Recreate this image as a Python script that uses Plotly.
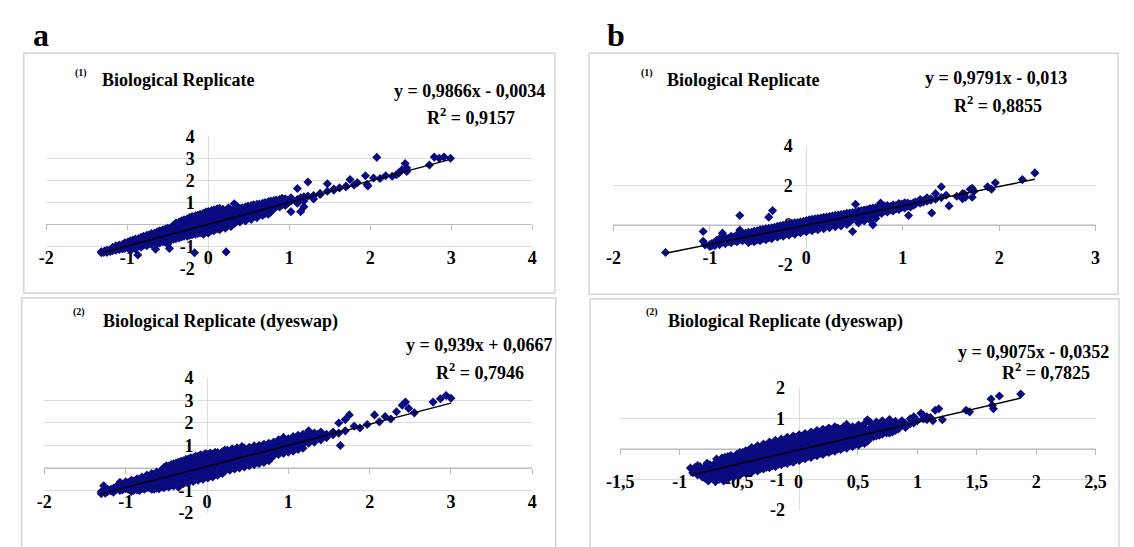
import plotly.graph_objects as go

W, H = 1134, 547

a1_points = [
    (-1.32, [-1.30, -1.25]), (-1.29, [-1.28]), (-1.25, [-1.18, -1.28]),
    (-1.18, [-1.05, -1.20, -1.12]), (-1.10, [-1.02, -1.15, -0.95]),
    (-1.03, [-0.98, -1.10, -0.85]), (-0.96, [-0.88, -1.05, -0.75, -1.20]),
    (-0.90, [-0.80, -0.98, -0.68, -1.12]), (-0.87, [-1.40]),
    (-0.83, [-0.72, -0.90, -0.60, -1.05]), (-0.76, [-0.65, -0.85, -0.50, -0.98]),
    (-0.70, [-0.58, -0.78, -0.42, -0.92]), (-0.65, [-1.14]),
    (-0.63, [-0.50, -0.70, -0.35, -0.88]), (-0.56, [-0.42, -0.65, -0.25, -0.80]),
    (-0.50, [-0.35, -0.58, -0.18, -0.75, -0.90]), (-0.48, [-1.10]),
    (-0.43, [-0.30, -0.50, -0.10, -0.68, -0.05]),
    (-0.36, [-0.22, -0.42, -0.02, -0.62, 0.10]),
    (-0.30, [-0.15, -0.35, 0.05, -0.55, 0.20]),
    (-0.23, [-0.08, -0.30, 0.12, -0.50, 0.30]),
    (-0.17, [-1.30]),
    (-0.16, [0.00, -0.22, 0.20, -0.45, 0.38]),
    (-0.10, [0.05, -0.15, 0.28, -0.40, 0.45]),
    (-0.03, [0.12, -0.10, 0.35, -0.35, 0.55]),
    (0.04, [0.18, -0.02, 0.40, -0.28, 0.62]),
    (0.11, [0.25, 0.05, 0.48, -0.20, 0.70]),
    (0.18, [0.30, 0.10, 0.52, -0.12, 0.68]),
    (0.22, [-1.26]),
    (0.25, [0.38, 0.18, 0.60, -0.05, 0.75]),
    (0.32, [0.45, 0.22, 0.65, 0.02, 0.93]),
    (0.39, [0.50, 0.30, 0.72, 0.10]), (0.46, [0.58, 0.36, 0.78, 0.15]),
    (0.53, [0.62, 0.42, 0.85, 0.22]), (0.60, [0.70, 0.50, 0.90, 0.30]),
    (0.67, [0.78, 0.55, 0.95, 0.40]), (0.74, [0.82, 0.62, 1.02, 0.45]),
    (0.81, [0.90, 0.70, 1.08]), (0.88, [0.95, 0.78, 1.12]),
    (0.95, [1.02, 0.85, 1.15]), (1.02, [1.05, 0.57, 1.20]),
    (1.10, [1.12, 1.62, 0.95]), (1.14, [0.57, 1.20]), (1.18, [0.79, 1.25, 1.05]),
    (1.23, [1.92, 1.28]), (1.30, [1.30, 1.15]), (1.38, [1.40, 1.35]),
    (1.47, [1.84, 1.50]), (1.55, [1.55, 1.60]), (1.62, [1.65]),
    (1.70, [1.72, 1.70]), (1.75, [2.03]), (1.80, [1.78]), (1.84, [1.89]),
    (1.94, [2.20]), (1.96, [1.81]), (1.97, [1.74]), (2.04, [2.10]),
    (2.08, [3.04]), (2.12, [2.08]), (2.19, [2.20]), (2.27, [2.18]),
    (2.32, [2.25]), (2.35, [2.32]), (2.39, [2.47]), (2.43, [2.76]),
    (2.45, [2.55, 2.40]), (2.73, [2.69]), (2.79, [3.05]), (2.85, [3.00]),
    (2.91, [3.05]), (2.99, [3.00]),
    (-1.28, [-1.22]), (-1.21, [-1.15, -1.24]), (-1.14, [-1.08, -0.98, -1.18]),
    (-1.06, [-0.92, -1.05, -1.12]), (-0.99, [-0.90, -0.80, -1.02]),
    (-0.93, [-0.72, -0.85, -0.95, -1.08]), (-0.86, [-0.65, -0.76, -0.92, -1.00]),
    (-0.80, [-0.55, -0.68, -0.82, -0.96]), (-0.73, [-0.48, -0.62, -0.74, -0.88]),
    (-0.66, [-0.40, -0.55, -0.66, -0.80]),
    (-0.60, [-0.30, -0.45, -0.58, -0.72, -0.85]),
    (-0.53, [-0.22, -0.40, -0.50, -0.65, -0.82]),
    (-0.46, [-0.15, -0.25, -0.42, -0.58, -0.72]),
    (-0.40, [-0.05, -0.18, -0.35, -0.50, -0.66, 0.05]),
    (-0.33, [0.00, -0.10, -0.28, -0.45, -0.58, 0.15]),
    (-0.26, [0.08, -0.05, -0.20, -0.40, -0.55, 0.25]),
    (-0.20, [0.15, 0.02, -0.12, -0.35, -0.48, 0.35]),
    (-0.13, [0.22, 0.10, -0.05, -0.30, -0.42, 0.40]),
    (-0.06, [0.30, 0.15, 0.00, -0.25, -0.45, 0.50]),
    (0.00, [0.38, 0.22, 0.05, -0.18, -0.40, 0.58]),
    (0.07, [0.45, 0.28, 0.10, -0.12, -0.30, 0.65]),
    (0.14, [0.52, 0.35, 0.15, -0.05, -0.25, 0.72]),
    (0.21, [0.55, 0.40, 0.22, 0.02, -0.18]),
    (0.28, [0.62, 0.45, 0.28, 0.08, -0.10]),
    (0.35, [0.70, 0.52, 0.35, 0.12, 0.82]),
    (0.42, [0.75, 0.60, 0.40, 0.20]), (0.49, [0.82, 0.65, 0.45, 0.28]),
    (0.56, [0.88, 0.72, 0.52, 0.35]), (0.63, [0.92, 0.78, 0.60, 0.42]),
    (0.70, [0.98, 0.85, 0.65, 0.48]), (0.77, [1.05, 0.92, 0.72, 0.55]),
    (0.84, [1.10, 0.98, 0.80]), (0.91, [1.08, 0.88, 1.18]), (0.98, [0.95, 1.10]),
]

a2_points = [
    (-1.30, [-1.06, -1.15]), (-1.27, [-0.79]), (-1.22, [-1.05, -0.95]),
    (-1.15, [-0.90, -1.08]), (-1.07, [-0.64, -0.85, -1.00]),
    (-1.00, [-0.78, -0.92, -0.62]), (-0.93, [-0.70, -0.88, -0.55, -1.05]),
    (-0.86, [-0.65, -0.82, -0.48, -0.98]), (-0.83, [-1.00]),
    (-0.80, [-0.58, -0.75, -0.40, -0.92]), (-0.74, [-0.52, -0.70, -0.32, -0.88]),
    (-0.68, [-0.45, -0.62, -0.25, -0.82, -0.95]),
    (-0.62, [-0.38, -0.55, -0.18, -0.75, -0.90]),
    (-0.56, [-0.32, -0.50, -0.10, -0.68, -0.85]),
    (-0.50, [-0.25, -0.42, -0.05, -0.62, -0.80, 0.10]),
    (-0.44, [-0.18, -0.38, 0.02, -0.58, -0.75, 0.15]),
    (-0.38, [-0.12, -0.32, 0.10, -0.52, -0.70, 0.22]),
    (-0.35, [-0.86]),
    (-0.32, [-0.05, -0.25, 0.15, -0.45, -0.65, 0.30]),
    (-0.26, [0.02, -0.18, 0.22, -0.40, -0.60, 0.38]),
    (-0.20, [0.08, -0.12, 0.28, -0.35, -0.55, 0.45]),
    (-0.14, [0.12, -0.05, 0.35, -0.28, -0.50, 0.52]),
    (-0.08, [0.18, 0.00, 0.40, -0.22, -0.45, 0.58]),
    (-0.02, [0.25, 0.05, 0.45, -0.15, -0.40, 0.64]),
    (0.04, [0.30, 0.10, 0.52, -0.10, -0.35, 0.66]),
    (0.10, [0.35, 0.15, 0.58, -0.05, -0.28, 0.70]),
    (0.16, [0.40, 0.20, 0.62, 0.00, -0.22]),
    (0.22, [0.45, 0.25, 0.68, 0.05, -0.15, 0.80]),
    (0.28, [0.50, 0.30, 0.72, 0.10, -0.10]),
    (0.34, [0.55, 0.35, 0.78, 0.15, -0.05]),
    (0.40, [0.60, 0.40, 0.82, 0.20, 0.00]),
    (0.46, [0.65, 0.45, 0.88, 0.25, 0.05]),
    (0.52, [0.70, 0.50, 0.92, 0.30, 0.10]),
    (0.58, [0.75, 0.55, 0.98, 0.35, 0.15]),
    (0.64, [0.80, 0.60, 1.00, 0.40, 0.20]),
    (0.70, [0.85, 0.65, 1.05, 0.45, 0.25]),
    (0.76, [0.90, 0.70, 1.10, 0.50, 0.32]),
    (0.82, [0.95, 0.75, 1.15, 0.55]), (0.88, [1.00, 0.80, 1.25, 0.60]),
    (0.94, [1.05, 0.85, 1.36, 0.65]), (1.00, [1.10, 0.90, 1.30, 0.70]),
    (1.06, [1.15, 0.95, 1.40, 0.75]), (1.12, [1.20, 1.00, 1.45, 0.82]),
    (1.18, [1.25, 1.05, 1.50, 0.88]), (1.25, [1.30, 1.65, 1.10]),
    (1.32, [1.35, 1.55, 1.15]), (1.40, [1.40, 1.60, 1.25]),
    (1.47, [1.50, 1.35]), (1.55, [1.48, 1.60]), (1.62, [2.00, 1.55]),
    (1.64, [1.00]), (1.70, [1.65, 2.15]), (1.75, [2.36]), (1.81, [1.86]),
    (1.88, [1.78]), (1.97, [1.93]), (2.06, [2.36]), (2.12, [2.05]),
    (2.19, [2.29]), (2.26, [2.18]), (2.33, [2.50]), (2.40, [2.79]),
    (2.44, [2.93]), (2.48, [2.65]), (2.55, [2.45]), (2.78, [2.93]),
    (2.87, [3.08]), (2.94, [3.22]), (3.00, [3.10]),
    (-1.25, [-1.12, -0.98]), (-1.18, [-0.95, -1.02]), (-1.11, [-0.80, -0.95]),
    (-1.04, [-0.72, -0.88, -0.98]), (-0.97, [-0.65, -0.82, -0.95]),
    (-0.90, [-0.58, -0.75, -0.92, -1.00]), (-0.83, [-0.50, -0.68, -0.85]),
    (-0.77, [-0.45, -0.62, -0.78, -0.95]), (-0.71, [-0.38, -0.55, -0.72, -0.88]),
    (-0.65, [-0.30, -0.48, -0.65, -0.82, -0.95]),
    (-0.59, [-0.25, -0.42, -0.60, -0.78, -0.92]),
    (-0.53, [-0.18, -0.35, -0.55, -0.72, -0.88, 0.02]),
    (-0.47, [-0.10, -0.30, -0.48, -0.66, -0.85, 0.08]),
    (-0.41, [-0.02, -0.22, -0.42, -0.62, -0.80, 0.18]),
    (-0.35, [0.05, -0.15, -0.35, -0.55, -0.75, 0.25]),
    (-0.29, [0.12, -0.08, -0.30, -0.50, -0.70, 0.32]),
    (-0.23, [0.18, -0.02, -0.25, -0.45, -0.65, 0.40]),
    (-0.17, [0.25, 0.05, -0.18, -0.40, -0.60, 0.45]),
    (-0.11, [0.30, 0.10, -0.12, -0.35, -0.55, 0.52]),
    (-0.05, [0.35, 0.15, -0.05, -0.28, -0.50, 0.55]),
    (0.01, [0.40, 0.20, 0.00, -0.22, -0.45, 0.60]),
    (0.07, [0.45, 0.25, 0.05, -0.18, -0.40, 0.62]),
    (0.13, [0.50, 0.30, 0.10, -0.12, -0.32, 0.68]),
    (0.19, [0.55, 0.35, 0.15, -0.08, -0.25, 0.72]),
    (0.25, [0.60, 0.40, 0.20, -0.02, 0.78]),
    (0.31, [0.65, 0.45, 0.25, 0.05, 0.85]),
    (0.37, [0.70, 0.50, 0.30, 0.10, 0.90]),
    (0.43, [0.75, 0.55, 0.35, 0.12, 0.95]),
    (0.49, [0.80, 0.60, 0.40, 0.18]), (0.55, [0.85, 0.65, 0.45, 0.22]),
    (0.61, [0.90, 0.70, 0.50, 0.28]), (0.67, [0.95, 0.75, 0.55, 0.35]),
    (0.73, [1.00, 0.80, 0.60, 0.40]), (0.79, [1.05, 0.85, 0.65, 0.45]),
    (0.85, [1.10, 0.90, 0.70]), (0.91, [1.15, 0.95, 0.75]),
    (0.97, [1.20, 1.00, 0.80]), (1.03, [1.25, 1.05, 0.85]),
    (1.09, [1.30, 1.10, 0.92]), (1.15, [1.35, 1.15]), (1.21, [1.40, 1.20]),
    (1.28, [1.45, 1.25]), (1.36, [1.50, 1.30]), (1.44, [1.42]),
]

b1_points = [
    (-1.46, [-1.40]), (-1.07, [-0.34, -0.83]), (-1.00, [-1.00, -1.10]),
    (-0.95, [-0.88, -1.05]), (-0.90, [-0.85, -1.00, -0.70]), (-0.87, [-0.42]),
    (-0.84, [-0.80, -0.95, -0.65]), (-0.78, [-0.72, -0.90, -0.58]),
    (-0.72, [-0.68, -0.85, -0.50]), (-0.69, [-0.26, 0.47]),
    (-0.66, [-0.62, -0.80, -0.45]), (-0.60, [-0.55, -0.75, -0.38, -0.90]),
    (-0.54, [-0.50, -0.70, -0.32, -0.85]), (-0.48, [-0.45, -0.65, -0.25, -0.80]),
    (-0.42, [-0.40, -0.58, -0.20, -0.75]), (-0.39, [0.39]),
    (-0.36, [-0.52, -0.15, -0.70, -0.35]), (-0.35, [0.72]),
    (-0.30, [-0.28, -0.48, -0.08, -0.62]), (-0.24, [-0.22, -0.42, -0.02, -0.58]),
    (-0.18, [-0.15, -0.35, 0.05, -0.52]), (-0.12, [-0.10, -0.30, 0.10, -0.48]),
    (-0.06, [-0.05, -0.22, 0.15, -0.40]), (0.00, [0.02, -0.18, 0.22, -0.35]),
    (0.06, [0.08, -0.12, 0.28, -0.30]), (0.12, [0.12, -0.05, 0.32, -0.25]),
    (0.18, [0.18, 0.00, 0.38, -0.20]), (0.24, [0.22, 0.05, 0.42, -0.15]),
    (0.30, [0.28, 0.10, 0.48, -0.10]), (0.36, [0.35, 0.15, 0.52, -0.05]),
    (0.42, [0.40, 0.22, 0.58, 0.02]), (0.48, [0.45, 0.28, 0.62, -0.34]),
    (0.51, [1.04]), (0.54, [0.52, 0.32, 0.70, 0.10]),
    (0.60, [0.58, 0.38, 0.75, 0.20]), (0.66, [0.65, 0.45, 0.82, 0.25]),
    (0.69, [0.00]), (0.72, [0.70, 0.52, 0.88, 0.32]), (0.77, [1.10]),
    (0.78, [0.75, 0.58, 0.92]), (0.84, [0.82, 0.65, 0.98]),
    (0.90, [0.88, 0.70, 1.02]), (0.96, [0.95, 0.78, 1.08]),
    (1.02, [1.00, 0.85, 1.12]), (1.06, [0.47]), (1.08, [1.05, 0.90]),
    (1.13, [1.04, 1.15]), (1.18, [1.28, 1.10]), (1.25, [1.37, 1.20]),
    (1.30, [0.60]), (1.34, [1.58, 1.30]), (1.40, [1.93, 1.38]),
    (1.45, [1.50]), (1.48, [0.96]), (1.56, [1.45]), (1.62, [1.32, 1.58]),
    (1.64, [1.56]), (1.65, [1.40]), (1.70, [1.80]), (1.72, [1.40, 1.85]),
    (1.74, [1.70]), (1.88, [1.93]), (1.92, [1.80]), (1.96, [2.13]),
    (2.24, [2.29]), (2.37, [2.63]),
    (-1.05, [-1.02]), (-0.98, [-0.95, -1.05]), (-0.93, [-0.92, -0.78]),
    (-0.87, [-0.88, -0.72]), (-0.81, [-0.85, -0.68, -0.75]),
    (-0.75, [-0.80, -0.62, -0.70]), (-0.69, [-0.75, -0.58, -0.65, -0.48]),
    (-0.63, [-0.70, -0.50, -0.60, -0.42]),
    (-0.57, [-0.65, -0.45, -0.55, -0.38, -0.80]),
    (-0.51, [-0.60, -0.40, -0.52, -0.30, -0.75]),
    (-0.45, [-0.55, -0.35, -0.45, -0.22, -0.70]),
    (-0.39, [-0.50, -0.30, -0.40, -0.18, -0.65]),
    (-0.33, [-0.42, -0.22, -0.35, -0.12]),
    (-0.27, [-0.38, -0.15, -0.30, -0.05, -0.52]),
    (-0.21, [-0.30, -0.10, -0.22, 0.02, -0.45]),
    (-0.15, [-0.25, -0.05, -0.18, 0.08, -0.40]),
    (-0.09, [-0.18, 0.02, -0.12, 0.12, -0.35]),
    (-0.03, [-0.12, 0.08, -0.05, 0.18, -0.28]),
    (0.03, [-0.08, 0.12, 0.00, 0.25, -0.22]),
    (0.09, [-0.02, 0.18, 0.05, 0.30, -0.18]),
    (0.15, [0.05, 0.22, 0.12, 0.35, -0.12]),
    (0.21, [0.10, 0.28, 0.18, 0.40, -0.05]),
    (0.27, [0.15, 0.35, 0.22, 0.45]), (0.33, [0.22, 0.40, 0.28, 0.50, 0.05]),
    (0.39, [0.28, 0.45, 0.35, 0.55]), (0.45, [0.32, 0.52, 0.40, 0.60, 0.15]),
    (0.51, [0.40, 0.58, 0.45, 0.65]), (0.57, [0.45, 0.62, 0.52, 0.72, 0.28]),
    (0.63, [0.50, 0.70, 0.58, 0.78]), (0.69, [0.58, 0.75, 0.65, 0.85]),
    (0.75, [0.62, 0.80, 0.70, 0.90]), (0.81, [0.70, 0.85, 0.78, 0.95]),
    (0.87, [0.75, 0.92, 0.82]), (0.93, [0.82, 0.98, 0.88]),
    (0.99, [0.88, 1.05, 0.95]), (1.05, [0.95, 1.10]), (1.11, [1.00, 1.12]),
    (1.21, [1.15, 1.22]), (1.29, [1.25, 1.32]),
]

b2_points = [
    (-0.91, [-0.63]), (-0.87, [-0.73, -0.60]), (-0.83, [-0.58, -0.80]),
    (-0.81, [-0.92, -0.70]), (-0.77, [-0.47, -0.65, -0.85]), (-0.76, [-1.05]),
    (-0.72, [-0.55, -0.72, -0.90]), (-0.70, [-1.07]), (-0.69, [-0.33]),
    (-0.67, [-0.50, -0.68, -0.85, -1.00]), (-0.63, [-1.05]),
    (-0.62, [-0.42, -0.60, -0.78, -0.95, -0.28]),
    (-0.57, [-0.38, -0.55, -0.72, -0.88, -0.22]),
    (-0.52, [-0.32, -0.50, -0.68, -0.83, -0.18]),
    (-0.47, [-0.28, -0.45, -0.62, -0.78, -0.12]),
    (-0.42, [-0.22, -0.40, -0.58, -0.72, -0.05]),
    (-0.37, [-0.18, -0.35, -0.52, -0.68, 0.00]),
    (-0.32, [-0.12, -0.30, -0.48, -0.65, 0.05]),
    (-0.27, [-0.08, -0.25, -0.42, -0.60, 0.12]),
    (-0.22, [-0.02, -0.20, -0.38, -0.55, 0.18]),
    (-0.17, [0.02, -0.15, -0.32, -0.50, 0.22]),
    (-0.12, [0.08, -0.10, -0.28, -0.45, 0.28]),
    (-0.07, [0.12, -0.05, -0.22, -0.40, 0.32]),
    (-0.02, [0.18, 0.00, -0.18, -0.35, 0.38]),
    (0.03, [0.22, 0.05, -0.12, -0.30, 0.42]),
    (0.08, [0.28, 0.10, -0.08, -0.25, 0.45]),
    (0.13, [0.32, 0.15, -0.02, -0.20, 0.50]),
    (0.18, [0.38, 0.20, 0.02, -0.15, 0.55]),
    (0.23, [0.42, 0.25, 0.08, -0.10, 0.60]),
    (0.28, [0.48, 0.30, 0.12, -0.05, 0.62]),
    (0.33, [0.52, 0.35, 0.18, 0.00, 0.68]),
    (0.38, [0.58, 0.40, 0.22, 0.05, 0.72]),
    (0.43, [0.62, 0.45, 0.28, 0.10]), (0.48, [0.66, 0.50, 0.32, 0.15]),
    (0.50, [0.74]), (0.53, [0.70, 0.52, 0.35, 0.20]),
    (0.58, [0.95, 0.60, 0.42, 0.25]), (0.63, [0.72, 0.55, 0.40]),
    (0.68, [0.78, 0.62, 0.45]), (0.74, [0.84, 0.68, 0.52]),
    (0.79, [0.70, 0.55]), (0.84, [0.80, 0.65]), (0.86, [0.84]),
    (0.90, [0.82, 0.70]), (0.97, [1.05, 0.85]), (1.00, [0.92]),
    (1.03, [1.16]), (1.08, [1.05, 0.95]), (1.13, [0.92]), (1.15, [1.26]),
    (1.18, [1.31]), (1.21, [0.95]), (1.41, [1.26]), (1.44, [1.21]),
    (1.62, [1.63]), (1.63, [1.42]), (1.64, [1.31]), (1.69, [1.73]),
    (1.87, [1.79]),
    (-0.89, [-0.68, -0.78]), (-0.85, [-0.66, -0.85, -0.55]),
    (-0.79, [-0.60, -0.78, -0.95]), (-0.745, [-0.52, -0.68, -0.82, -0.98]),
    (-0.695, [-0.45, -0.62, -0.78, -0.93]),
    (-0.645, [-0.40, -0.56, -0.72, -0.90, -0.30]),
    (-0.595, [-0.35, -0.50, -0.66, -0.82, -0.98, -0.25]),
    (-0.545, [-0.28, -0.44, -0.60, -0.76, -0.92]),
    (-0.495, [-0.24, -0.40, -0.56, -0.70, -0.86, -0.12]),
    (-0.445, [-0.18, -0.34, -0.50, -0.66, -0.80, -0.06]),
    (-0.395, [-0.12, -0.28, -0.44, -0.60, -0.76, 0.04]),
    (-0.345, [-0.08, -0.24, -0.40, -0.56, -0.72, 0.10]),
    (-0.295, [-0.02, -0.18, -0.34, -0.50, -0.66, 0.16]),
    (-0.245, [0.04, -0.12, -0.28, -0.46, -0.62, 0.22]),
    (-0.195, [0.08, -0.08, -0.24, -0.42, -0.58, 0.28]),
    (-0.145, [0.14, -0.02, -0.18, -0.36, -0.52, 0.32]),
    (-0.095, [0.18, 0.02, -0.14, -0.30, -0.48, 0.38]),
    (-0.045, [0.24, 0.08, -0.08, -0.26, -0.44, 0.42]),
    (0.005, [0.28, 0.12, -0.04, -0.20, -0.38, 0.46]),
    (0.055, [0.34, 0.18, 0.02, -0.16, -0.32, 0.50]),
    (0.105, [0.38, 0.22, 0.06, -0.10, -0.28, 0.55]),
    (0.155, [0.44, 0.28, 0.12, -0.06, -0.22, 0.60]),
    (0.205, [0.48, 0.32, 0.16, 0.00, -0.18, 0.64]),
    (0.255, [0.54, 0.38, 0.22, 0.04, -0.12, 0.68]),
    (0.305, [0.58, 0.42, 0.26, 0.08, -0.08, 0.72]),
    (0.355, [0.64, 0.48, 0.30, 0.12, -0.02]),
    (0.405, [0.68, 0.52, 0.36, 0.18, 0.02, 0.80]),
    (0.455, [0.72, 0.58, 0.40, 0.22, 0.08]),
    (0.505, [0.78, 0.62, 0.44, 0.26, 0.12]),
    (0.555, [0.82, 0.66, 0.48, 0.32, 0.18]),
    (0.605, [0.86, 0.70, 0.52, 0.36]), (0.655, [0.88, 0.74, 0.58, 0.42]),
    (0.705, [0.92, 0.78, 0.62, 0.48]), (0.765, [0.96, 0.82, 0.66, 0.52]),
    (0.815, [0.90, 0.75, 0.60]), (0.87, [0.92, 0.78]), (0.94, [0.98, 0.82]),
    (1.05, [0.98, 1.10]), (1.11, [1.02]),
]

slopes = [0.9866, 0.939, 0.9791, 0.9075]
intercepts = [-0.0034, 0.0667, -0.013, -0.0352]
equations = ["y = 0,9866x - 0,0034", "y = 0,939x + 0,0667",
             "y = 0,9791x - 0,013", "y = 0,9075x - 0,0352"]
r2_values = ["0,9157", "0,7946", "0,8855", "0,7825"]
titles = ["Biological Replicate", "Biological Replicate (dyeswap)",
          "Biological Replicate", "Biological Replicate (dyeswap)"]
title_marks = ["(1)", "(2)", "(1)", "(2)"]

x_ranges = [[-2, 4], [-2, 4], [-2, 3], [-1.5, 2.5]]
y_ranges = [[-2, 4], [-2, 4], [-2, 4], [-2, 2]]
x_tickvals = [[-2, -1, 0, 1, 2, 3, 4], [-2, -1, 0, 1, 2, 3, 4],
              [-2, -1, 0, 1, 2, 3],
              [-1.5, -1, -0.5, 0, 0.5, 1, 1.5, 2, 2.5]]
x_ticktext = [["-2", "-1", "0", "1", "2", "3", "4"],
              ["-2", "-1", "0", "1", "2", "3", "4"],
              ["-2", "-1", "0", "1", "2", "3"],
              ["-1,5", "-1", "-0,5", "0", "0,5", "1", "1,5", "2", "2,5"]]
y_tickvals = [[-2, -1, 0, 1, 2, 3, 4], [-2, -1, 0, 1, 2, 3, 4],
              [-2, 0, 2, 4], [-2, -1, 0, 1, 2]]
y_ticktext = [["-2", "-1", "0", "1", "2", "3", "4"],
              ["-2", "-1", "0", "1", "2", "3", "4"],
              ["-2", "0", "2", "4"], ["-2", "-1", "0", "1", "2"]]

all_points = [a1_points, a2_points, b1_points, b2_points]

# ---------------- layout geometry (pixels) ----------------
plot_boxes = [(33, 131, 530, 268), (31, 382, 530, 522),
              (613, 141, 1106, 264), (620, 392, 1106, 519)]
frames = [(10, 45, 553, 294), (8, 299, 554, 560),
          (588, 45, 1129, 295), (589, 300, 1130, 560)]
mark_pos = [(69, 65), (66, 313), (647, 65), (652, 313)]
title_pos = [(88, 73), (89, 323), (666, 73), (667, 323)]
eq_pos = [(466, 84), (476, 348), (1004, 71), (1042, 355)]
r2_pos = [(467, 111), (477, 375), (1006, 98), (1055, 375)]

FONT = "Liberation Serif"
MARK_COLOR = "#0b0b80"

def px(x):
    return x / W

def py(y):
    return 1 - y / H

fig = go.Figure()
layout = dict(width=W, height=H, margin=dict(l=0, r=0, t=0, b=0),
              paper_bgcolor="white", plot_bgcolor="white", showlegend=False,
              autosize=False)
shapes = []
annotations = []

tick_font = dict(family=FONT, size=18, color="black", weight="bold")

for i in range(4):
    n = "" if i == 0 else str(i + 1)
    l, t, r, b = plot_boxes[i]
    xd = [px(l), px(r)]
    yd = [py(b), py(t)]
    xr, yr = x_ranges[i], y_ranges[i]
    xaxis_pos = yd[0] + (0 - yr[0]) / (yr[1] - yr[0]) * (yd[1] - yd[0])
    yaxis_pos = xd[0] + (0 - xr[0]) / (xr[1] - xr[0]) * (xd[1] - xd[0])

    layout["xaxis" + n] = dict(
        domain=xd, range=xr, anchor="free", position=xaxis_pos,
        showgrid=False, zeroline=False, showline=True, linecolor="#bdbdbd",
        linewidth=1, ticks="outside", ticklen=5, tickcolor="#bdbdbd",
        tickvals=x_tickvals[i], ticktext=x_ticktext[i], tickfont=tick_font,
        ticklabelstandoff=12, layer="below traces", fixedrange=True)
    layout["yaxis" + n] = dict(
        domain=yd, range=yr, anchor="free", position=yaxis_pos,
        showgrid=True, gridcolor="#dcdcdc", gridwidth=1, zeroline=False,
        showline=True, linecolor="#dcdcdc", linewidth=1, ticks="",
        tickvals=y_tickvals[i], ticktext=y_ticktext[i], tickfont=tick_font,
        ticklabelstandoff=10, layer="below traces", fixedrange=True)

    pts = all_points[i]
    xs = [x for x, ys in pts for _ in ys]
    ys_ = [y for _, ys in pts for y in ys]
    fig.add_trace(go.Scatter(
        x=xs, y=ys_, mode="markers", xaxis="x" + n, yaxis="y" + n,
        marker=dict(symbol="diamond", size=7, color=MARK_COLOR,
                    line=dict(width=0)),
        hoverinfo="skip"))
    x_lo, x_hi = min(xs), max(xs)
    fig.add_trace(go.Scatter(
        x=[x_lo, x_hi],
        y=[slopes[i] * x_lo + intercepts[i], slopes[i] * x_hi + intercepts[i]],
        mode="lines", xaxis="x" + n, yaxis="y" + n,
        line=dict(color="black", width=1.5), hoverinfo="skip"))

    fl, ft, fr, fb = frames[i]
    shapes.append(dict(type="rect", xref="paper", yref="paper",
                       x0=px(fl), x1=px(fr), y0=py(fb), y1=py(ft),
                       line=dict(color="#d4d4d4", width=1.5), layer="below"))

    mx, my = mark_pos[i]
    annotations.append(dict(x=px(mx), y=py(my), xref="paper", yref="paper",
                            text="<b>" + title_marks[i] + "</b>", showarrow=False,
                            xanchor="center", yanchor="middle",
                            font=dict(family=FONT, size=10, color="black")))
    tx, ty = title_pos[i]
    annotations.append(dict(x=px(tx), y=py(ty), xref="paper", yref="paper",
                            text="<b>" + titles[i] + "</b>", showarrow=False,
                            xanchor="left", yanchor="middle",
                            font=dict(family=FONT, size=18, color="black")))
    ex, ey = eq_pos[i]
    annotations.append(dict(x=px(ex), y=py(ey), xref="paper", yref="paper",
                            text="<b>" + equations[i] + "</b>", showarrow=False,
                            xanchor="center", yanchor="middle",
                            font=dict(family=FONT, size=18, color="black")))
    rx, ry = r2_pos[i]
    annotations.append(dict(x=px(rx), y=py(ry), xref="paper", yref="paper",
                            text="<b>R<sup>2</sup> = " + r2_values[i] + "</b>",
                            showarrow=False, xanchor="center", yanchor="middle",
                            font=dict(family=FONT, size=18, color="black")))

for letter, (lx, ly) in zip(["a", "b"], [(28, 26), (616, 26)]):
    annotations.append(dict(x=px(lx), y=py(ly), xref="paper", yref="paper",
                            text="<b>" + letter + "</b>", showarrow=False,
                            xanchor="center", yanchor="middle",
                            font=dict(family=FONT, size=32, color="black")))

layout["shapes"] = shapes
layout["annotations"] = annotations
fig.update_layout(**layout)

fig.write_html("out.html",
               config={"displayModeBar": False, "staticPlot": True},
               post_script="document.body.style.margin='0';"
                           "document.body.style.overflow='hidden';")
